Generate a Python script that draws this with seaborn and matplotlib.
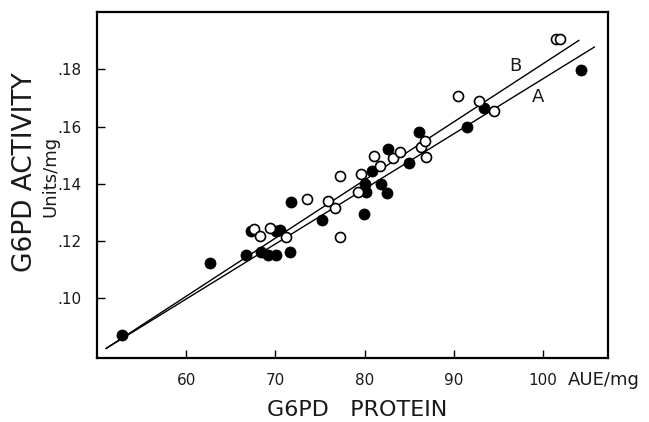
import matplotlib
matplotlib.use("Agg")
import matplotlib.pyplot as plt
import seaborn as sns
import pandas as pd
from matplotlib.ticker import FixedLocator, FixedFormatter

# ---- data ----
filled_x = [52.8, 62.7, 66.7, 67.3, 68.4, 69.2, 70.1, 70.1, 70.5, 71.6, 71.8, 75.2,
            79.9, 80.2, 80.1, 80.8, 81.9, 82.5, 82.6, 85.0, 86.1, 91.5, 93.4, 104.3]
filled_y = [.0873, .1124, .1150, .1234, .1160, .1150, .1150, .1235, .1240, .1163, .1338, .1274,
            .1295, .1373, .1398, .1446, .1400, .1367, .1521, .1473, .1581, .1598, .1666, .1798]
open_x = [67.6, 68.3, 69.4, 71.2, 73.6, 75.9, 76.7, 77.2, 77.3, 79.3, 79.6, 81.1,
          81.7, 83.2, 84.0, 86.3, 86.8, 86.9, 90.5, 92.8, 94.5, 101.5, 101.9]
open_y = [.1242, .1219, .1246, .1214, .1347, .1340, .1315, .1213, .1428, .1373, .1434, .1498,
          .1463, .1491, .1510, .1529, .1551, .1493, .1707, .1689, .1654, .1905, .1905]

line_A_x = [51.0, 105.8]
line_A_y = [0.0824, 0.1879]
line_B_x = [51.0, 104.05]
line_B_y = [0.0824, 0.1902]

x_ticks = [60, 70, 80, 90, 100]
x_tick_labels = ["60", "70", "80", "90", "100"]
y_ticks = [0.10, 0.12, 0.14, 0.16, 0.18]
y_tick_labels = [".10", ".12", ".14", ".16", ".18"]

sns.set_style("white")
plt.rcParams['font.family'] = ['DejaVu Sans']

fig = plt.figure(figsize=(6.49, 4.22), dpi=100)
ax = fig.add_axes([97/649, 1-358/422, (608-97)/649, (358-12)/422])

df_f = pd.DataFrame({"x": filled_x, "y": filled_y})
df_o = pd.DataFrame({"x": open_x, "y": open_y})
df_a = pd.DataFrame({"x": line_A_x, "y": line_A_y})
df_b = pd.DataFrame({"x": line_B_x, "y": line_B_y})

sns.lineplot(data=df_a, x="x", y="y", ax=ax, color="black", linewidth=1.0,
             estimator=None, sort=False, zorder=1)
sns.lineplot(data=df_b, x="x", y="y", ax=ax, color="black", linewidth=1.0,
             estimator=None, sort=False, zorder=1)
sns.scatterplot(data=df_f, x="x", y="y", ax=ax, s=64, color="black",
                edgecolor="black", linewidth=0.5, zorder=3)
sns.scatterplot(data=df_o, x="x", y="y", ax=ax, s=52, color="white",
                edgecolor="black", linewidth=1.2, zorder=4)

ax.set_xlim(50.0, 107.3)
ax.set_ylim(0.0791, 0.2001)
ax.xaxis.set_major_locator(FixedLocator(x_ticks))
ax.xaxis.set_major_formatter(FixedFormatter(x_tick_labels))
ax.yaxis.set_major_locator(FixedLocator(y_ticks))
ax.yaxis.set_major_formatter(FixedFormatter(y_tick_labels))
ax.tick_params(direction="in", length=6, width=1.0, color="black",
               labelsize=11, pad=11, labelcolor="#1a1a1a")
ax.tick_params(axis="x", bottom=True)
ax.tick_params(axis="y", left=True)
ax.set_xlabel("")
ax.set_ylabel("")
for sp in ax.spines.values():
    sp.set_visible(True)
    sp.set_color("black")
    sp.set_linewidth(1.6)

ax.text(96.9, 0.1812, "B", fontsize=13, ha="center", va="center", color="#1a1a1a")
ax.text(99.4, 0.1702, "A", fontsize=13, ha="center", va="center", color="#1a1a1a")

fig.text(25/649, 1-172/422, "G6PD ACTIVITY", rotation=90, fontsize=19,
         ha="center", va="center", color="#1a1a1a")
fig.text(50/649, 1-176/422, "Units/mg", rotation=90, fontsize=13,
         ha="center", va="center", color="#1a1a1a")
fig.text(357/649, 1-410/422, "G6PD   PROTEIN", fontsize=16,
         ha="center", va="center", color="#1a1a1a")
fig.text(568/649, 1-380/422, "AUE/mg", fontsize=13,
         ha="left", va="center", color="#1a1a1a")

fig.savefig("out.png", dpi=100)
